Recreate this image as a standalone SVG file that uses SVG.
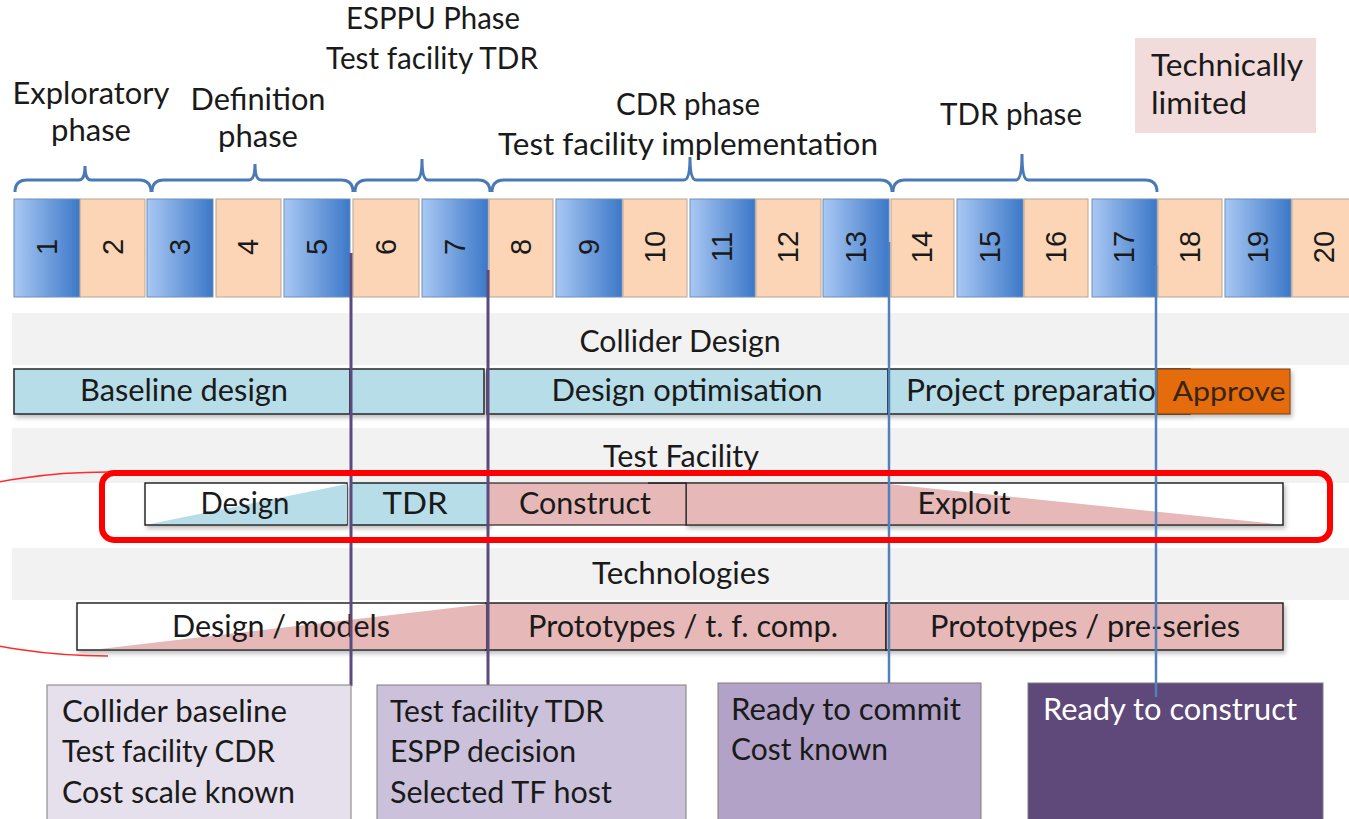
<svg xmlns="http://www.w3.org/2000/svg" width="1349" height="819" viewBox="0 0 1349 819">
<defs>
<linearGradient id="blueG" x1="0" y1="0" x2="1" y2="0">
<stop offset="0" stop-color="#a9c8f4"/>
<stop offset="1" stop-color="#3c78c8"/>
</linearGradient>
<filter id="sh" x="-5%" y="-20%" width="110%" height="150%">
<feDropShadow dx="2" dy="3" stdDeviation="2" flood-color="#000" flood-opacity="0.25"/>
</filter>
<style>
text{font-family:Lato,"Liberation Sans",sans-serif;font-size:30px;fill:#1a1a1a}
.num{font-family:"Liberation Sans",Arial,sans-serif;font-size:29px;text-anchor:middle;dominant-baseline:central}
.c{text-anchor:middle}
.bl{fill:url(#blueG);stroke:#6f8fb8;stroke-width:1}
.pe{fill:#fbd5b5;stroke:#b9a48f;stroke-width:1}
.band{fill:#f2f2f2}
.bar{stroke:#262626;stroke-width:1.5}
.lb{fill:#b7dde8}
.pk{fill:#e6b8b7}
.brace{fill:none;stroke:#4a7ab5;stroke-width:3}
.ms1{stroke:#5b4a7e;stroke-width:3}
.ms2{stroke:#4f81bd;stroke-width:2.5}
</style>
</defs>
<rect width="1349" height="819" fill="#fff"/>

<g id="phase-labels">
<text class="c" x="91" y="104" textLength="157" lengthAdjust="spacingAndGlyphs">Exploratory</text>
<text class="c" x="91" y="141" textLength="80" lengthAdjust="spacingAndGlyphs">phase</text>
<text class="c" x="258" y="110" textLength="135" lengthAdjust="spacingAndGlyphs">Definition</text>
<text class="c" x="258" y="147" textLength="80" lengthAdjust="spacingAndGlyphs">phase</text>
<text class="c" x="433" y="29" textLength="174" lengthAdjust="spacingAndGlyphs">ESPPU Phase</text>
<text class="c" x="432" y="69" textLength="212" lengthAdjust="spacingAndGlyphs">Test facility TDR</text>
<text class="c" x="688" y="115" textLength="144" lengthAdjust="spacingAndGlyphs">CDR phase</text>
<text class="c" x="688" y="155" textLength="380" lengthAdjust="spacingAndGlyphs">Test facility implementation</text>
<text class="c" x="1011" y="125" textLength="142" lengthAdjust="spacingAndGlyphs">TDR phase</text>
</g>

<g id="technically-limited">
<rect x="1135" y="38" width="181" height="95" fill="#f2dcdb"/>
<text x="1151" y="76" textLength="152" lengthAdjust="spacingAndGlyphs">Technically</text>
<text x="1151" y="114" textLength="96" lengthAdjust="spacingAndGlyphs">limited</text>
</g>

<g id="braces">
<path class="brace" d="M15,192 Q15,180 27,180 L79,180 Q85,180 85,166 Q85,180 91,180 L139,180 Q151,180 151,192"/>
<path class="brace" d="M152,192 Q152,180 164,180 L249,180 Q255,180 255,164 Q255,180 261,180 L341,180 Q353,180 353,192"/>
<path class="brace" d="M355,192 Q355,180 367,180 L416,180 Q422,180 422,159 Q422,180 428,180 L478,180 Q490,180 490,192"/>
<path class="brace" d="M492,192 Q492,180 504,180 L684,180 Q690,180 690,157 Q690,180 696,180 L880,180 Q892,180 892,192"/>
<path class="brace" d="M893,192 Q893,180 905,180 L1016,180 Q1022,180 1022,154 Q1022,180 1028,180 L1145,180 Q1157,180 1157,192"/>
</g>

<g id="timeline">
<rect class="bl" x="14" y="199" width="66" height="98"/>
<rect class="pe" x="80" y="199" width="65" height="98"/>
<rect class="bl" x="147" y="199" width="66" height="98"/>
<rect class="pe" x="216" y="199" width="65" height="98"/>
<rect class="bl" x="284" y="199" width="66" height="98"/>
<rect class="pe" x="353" y="199" width="66" height="98"/>
<rect class="bl" x="422" y="199" width="66" height="98"/>
<rect class="pe" x="489" y="199" width="64" height="98"/>
<rect class="bl" x="556" y="199" width="66" height="98"/>
<rect class="pe" x="623" y="199" width="64" height="98"/>
<rect class="bl" x="690" y="199" width="65" height="98"/>
<rect class="pe" x="756" y="199" width="65" height="98"/>
<rect class="bl" x="823" y="199" width="66" height="98"/>
<rect class="pe" x="891" y="199" width="63" height="98"/>
<rect class="bl" x="957" y="199" width="66" height="98"/>
<rect class="pe" x="1024" y="199" width="64" height="98"/>
<rect class="bl" x="1092" y="199" width="65" height="98"/>
<rect class="pe" x="1158" y="199" width="64" height="98"/>
<rect class="bl" x="1225" y="199" width="66" height="98"/>
<rect class="pe" x="1292" y="199" width="60" height="98"/>
<text class="num" transform="translate(47,247) rotate(-90)">1</text>
<text class="num" transform="translate(113,247) rotate(-90)">2</text>
<text class="num" transform="translate(180,247) rotate(-90)">3</text>
<text class="num" transform="translate(248,247) rotate(-90)">4</text>
<text class="num" transform="translate(317,247) rotate(-90)">5</text>
<text class="num" transform="translate(386,247) rotate(-90)">6</text>
<text class="num" transform="translate(455,247) rotate(-90)">7</text>
<text class="num" transform="translate(521,247) rotate(-90)">8</text>
<text class="num" transform="translate(589,247) rotate(-90)">9</text>
<text class="num" transform="translate(655,247) rotate(-90)">10</text>
<text class="num" transform="translate(722,247) rotate(-90)">11</text>
<text class="num" transform="translate(788,247) rotate(-90)">12</text>
<text class="num" transform="translate(856,247) rotate(-90)">13</text>
<text class="num" transform="translate(922,247) rotate(-90)">14</text>
<text class="num" transform="translate(990,247) rotate(-90)">15</text>
<text class="num" transform="translate(1056,247) rotate(-90)">16</text>
<text class="num" transform="translate(1124,247) rotate(-90)">17</text>
<text class="num" transform="translate(1190,247) rotate(-90)">18</text>
<text class="num" transform="translate(1258,247) rotate(-90)">19</text>
<text class="num" transform="translate(1324,247) rotate(-90)">20</text>
</g>

<g id="collider-design">
<rect class="band" x="12" y="313" width="1337" height="52"/>
<text class="c" x="680" y="352" textLength="201" lengthAdjust="spacingAndGlyphs">Collider Design</text>
<g filter="url(#sh)">
<rect class="bar lb" x="14" y="369" width="336" height="45"/>
<rect class="bar lb" x="350" y="369" width="134" height="45"/>
<rect class="bar lb" x="487" y="369" width="401" height="45"/>
<rect class="bar lb" x="888" y="369" width="302" height="45"/>
<rect x="1157" y="369" width="133" height="45" fill="#e46c0a" stroke="#7a3a08" stroke-width="1"/>
</g>
<text class="c" x="184" y="401" textLength="208" lengthAdjust="spacingAndGlyphs">Baseline design</text>
<text class="c" x="687" y="401" textLength="271" lengthAdjust="spacingAndGlyphs">Design optimisation</text>
<text x="906" y="401" textLength="250" lengthAdjust="spacingAndGlyphs">Project preparatio</text>
<text class="c" x="1229" y="401" textLength="113" lengthAdjust="spacingAndGlyphs" style="font-size:27px;fill:#3a2410">Approve</text>
</g>

<g id="test-facility">
<rect class="band" x="12" y="428" width="1337" height="55"/>
<text class="c" x="681" y="467" textLength="156" lengthAdjust="spacingAndGlyphs">Test Facility</text>
<g filter="url(#sh)">
<rect class="bar" x="145" y="483" width="202" height="42" fill="#fff"/>
<rect class="bar lb" x="351" y="483" width="137" height="42"/>
<rect class="bar" x="686" y="483" width="597" height="42" fill="#fff"/>
</g>
<polygon points="150,524 347,524 347,484" fill="#b7dde8"/>
<rect class="pk" x="488" y="483" width="198" height="42" stroke="#262626" stroke-width="1.2"/>
<polygon points="687,484 888,484 1276,524 687,524" fill="#e6b8b7"/>
<line x1="648" y1="483" x2="686" y2="483" stroke="#262626" stroke-width="1.5"/>
<text class="c" x="245" y="514" textLength="89" lengthAdjust="spacingAndGlyphs">Design</text>
<text class="c" x="415" y="514" textLength="65" lengthAdjust="spacingAndGlyphs">TDR</text>
<text class="c" x="585" y="514" textLength="132" lengthAdjust="spacingAndGlyphs">Construct</text>
<text class="c" x="964" y="514" textLength="93" lengthAdjust="spacingAndGlyphs">Exploit</text>
</g>

<g id="technologies">
<rect class="band" x="12" y="548" width="1337" height="52"/>
<text class="c" x="681" y="584" textLength="178" lengthAdjust="spacingAndGlyphs">Technologies</text>
<g filter="url(#sh)">
<rect class="bar" x="77" y="603" width="409" height="47" fill="#fff"/>
<rect class="bar pk" x="486" y="603" width="400" height="47"/>
<rect class="bar pk" x="886" y="603" width="397" height="47"/>
</g>
<polygon points="100,649 486,649 486,604" fill="#e6b8b7"/>
<text class="c" x="281" y="637" textLength="218" lengthAdjust="spacingAndGlyphs">Design / models</text>
<text class="c" x="683" y="637" textLength="310" lengthAdjust="spacingAndGlyphs">Prototypes / t. f. comp.</text>
<text class="c" x="1085" y="637" textLength="310" lengthAdjust="spacingAndGlyphs">Prototypes / pre-series</text>
</g>

<g id="connectors">
<line class="ms1" x1="351" y1="253" x2="351" y2="686"/>
<line class="ms1" x1="488" y1="270" x2="488" y2="686"/>
<line class="ms2" x1="889" y1="242" x2="889" y2="684"/>
<line class="ms2" x1="1156" y1="265" x2="1156" y2="697"/>
</g>

<g id="highlight">
<rect x="102" y="473" width="1228" height="67" rx="12" fill="none" stroke="#ff0000" stroke-width="6"/>
<path d="M108,472 A240 92 0 0 0 108,656" fill="none" stroke="#ff2a2a" stroke-width="1.5"/>
</g>

<g id="milestone-1">
<rect x="47" y="685" width="304" height="140" fill="#e5e0ec" stroke="#7f7f7f" stroke-width="1"/>
<text x="62" y="722" textLength="225" lengthAdjust="spacingAndGlyphs">Collider baseline</text>
<text x="62" y="762" textLength="213" lengthAdjust="spacingAndGlyphs">Test facility CDR</text>
<text x="62" y="803" textLength="233" lengthAdjust="spacingAndGlyphs">Cost scale known</text>
</g>
<g id="milestone-2">
<rect x="377" y="685" width="309" height="140" fill="#ccc1da" stroke="#7f7f7f" stroke-width="1"/>
<text x="390" y="722" textLength="214" lengthAdjust="spacingAndGlyphs">Test facility TDR</text>
<text x="390" y="762" textLength="186" lengthAdjust="spacingAndGlyphs">ESPP decision</text>
<text x="390" y="803" textLength="222" lengthAdjust="spacingAndGlyphs">Selected TF host</text>
</g>
<g id="milestone-3">
<rect x="718" y="683" width="263" height="140" fill="#b2a2c7" stroke="#7f7f7f" stroke-width="1"/>
<text x="731" y="720" textLength="230" lengthAdjust="spacingAndGlyphs">Ready to commit</text>
<text x="731" y="760" textLength="157" lengthAdjust="spacingAndGlyphs">Cost known</text>
</g>
<g id="milestone-4">
<rect x="1028" y="683" width="295" height="140" fill="#5f497a" stroke="#7f7f7f" stroke-width="1"/>
<text x="1043" y="720" textLength="254" lengthAdjust="spacingAndGlyphs" style="fill:#ffffff">Ready to construct</text>
</g>
<line class="ms2" x1="1156" y1="683" x2="1156" y2="697"/>
</svg>
